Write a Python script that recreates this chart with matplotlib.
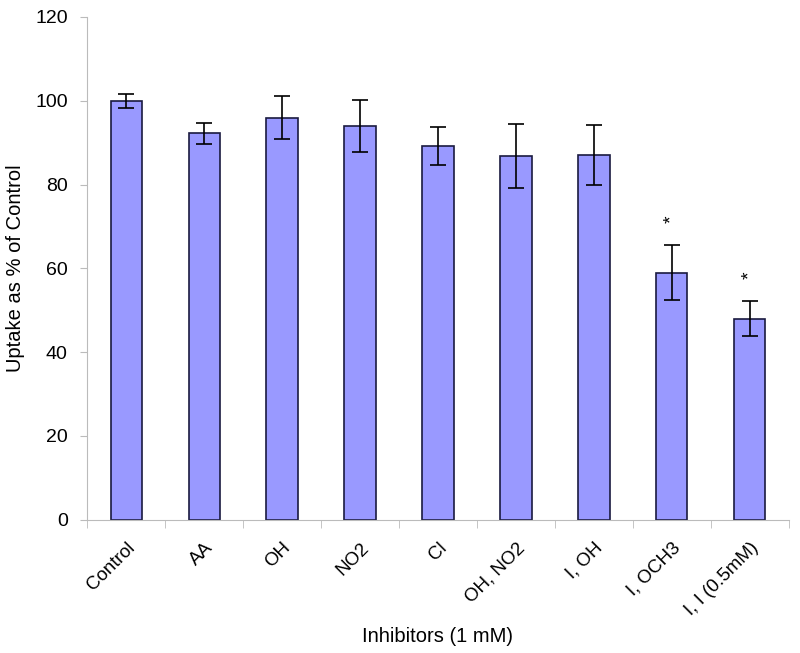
import matplotlib.pyplot as plt

plt.rcParams['font.family'] = ['Liberation Sans', 'DejaVu Sans']

# dados
inibidores = ['Control', 'AA', 'OH', 'NO2', 'Cl', 'OH, NO2', 'I, OH', 'I, OCH3', 'I, I (0.5mM)']
uptake = [100, 92.2, 96, 94, 89.2, 86.8, 87, 59, 48]
erros = [1.7, 2.6, 5.2, 6.3, 4.5, 7.7, 7.2, 6.5, 4.2]
significativo = [False, False, False, False, False, False, False, True, True]

fig = plt.figure(figsize=(8, 6.53), dpi=100)
ax = fig.add_axes([0.109, 0.204, 0.877, 0.77])

x = range(len(inibidores))
ax.bar(x, uptake, width=0.4, color='#9999FF', edgecolor='#1a1a40', linewidth=1.2,
       yerr=erros, error_kw=dict(ecolor='black', elinewidth=1.2, capsize=6, capthick=1.2))

for i in x:
    if significativo[i]:
        ax.text(i, uptake[i] + erros[i] + 6.2, '*', ha='center', va='center',
                fontsize=14, rotation=90)

ax.set_xlim(-0.5, len(inibidores) - 0.5)
ax.set_ylim(0, 120)
ax.set_yticks(range(0, 121, 20))
ax.set_xticks(list(x))
ax.set_xticklabels(inibidores, rotation=45, ha='right', rotation_mode='anchor',
                   fontsize=13.5)
ax.tick_params(axis='y', labelsize=14, color='#bbbbbb', length=5, pad=9)
ax.set_xticks([i + 0.5 for i in range(-1, len(inibidores))], minor=True)
ax.tick_params(axis='x', which='major', length=0, pad=14)
ax.tick_params(axis='x', which='minor', length=6, color='#bbbbbb')

for s in ['top', 'right']:
    ax.spines[s].set_visible(False)
ax.spines['left'].set_color('#bbbbbb')
ax.spines['bottom'].set_color('#bbbbbb')

ax.set_ylabel('Uptake as % of Control', fontsize=14.5)
ax.yaxis.set_label_coords(-0.088, 0.5)
ax.set_xlabel('Inhibitors (1 mM)', fontsize=14.5)
ax.xaxis.set_label_coords(0.5, -0.213)

fig.savefig('out.png')
